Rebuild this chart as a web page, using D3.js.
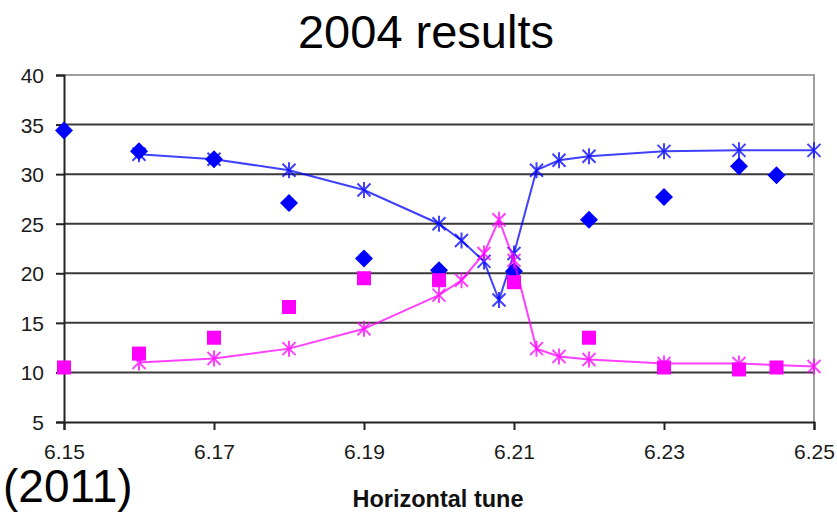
<!DOCTYPE html>
<html>
<head>
<meta charset="utf-8">
<script src="https://cdn.jsdelivr.net/npm/d3@7"></script>
<style>
body { margin: 0; background: #fff; }
svg { display: block; font-family: "Liberation Sans", Arial, sans-serif; }
</style>
</head>
<body>
<div id="chart"></div>
<script>
// measured points (scatter only)
var diamondTune = [6.15, 6.16, 6.17, 6.18, 6.19, 6.20, 6.21, 6.22, 6.23, 6.24, 6.245];
var diamondVals = [34.4, 32.3, 31.5, 27.1, 21.5, 20.3, 20.2, 25.4, 27.7, 30.8, 29.9];
var squareTune = [6.15, 6.16, 6.17, 6.18, 6.19, 6.20, 6.21, 6.22, 6.23, 6.24, 6.245];
var squareVals = [10.5, 11.9, 13.5, 16.6, 19.5, 19.3, 19.1, 13.5, 10.5, 10.3, 10.5];

// simulated curves (asterisks with line)
var simTune = [6.16, 6.17, 6.18, 6.19, 6.20, 6.203, 6.206, 6.208, 6.21, 6.213, 6.216, 6.22, 6.23, 6.24, 6.25];
var simBlue = [32.0, 31.5, 30.4, 28.4, 25.0, 23.3, 21.2, 17.3, 22.0, 30.4, 31.4, 31.8, 32.3, 32.4, 32.4];
var simPink = [11.0, 11.4, 12.4, 14.4, 17.8, 19.3, 22.0, 25.4, 21.3, 12.4, 11.6, 11.3, 10.9, 10.9, 10.6];

var xTicks = [6.15, 6.17, 6.19, 6.21, 6.23, 6.25];
var yTicks = [5, 10, 15, 20, 25, 30, 35, 40];

var w = 837, h = 512;
var blue = "#0000ff", pink = "#ff00ff";

var svg = d3.select("#chart").append("svg")
	.attr("width", w)
	.attr("height", h);

var x = d3.scaleLinear().domain([6.15, 6.25]).range([64, 814]);
var y = d3.scaleLinear().domain([5, 40]).range([422, 75]);

// gridlines
svg.selectAll(".grid")
	.data(yTicks.filter(function (d) { return d > 5 && d < 40; }))
	.enter().append("line")
	.attr("class", "grid")
	.attr("x1", x(6.15)).attr("x2", x(6.25))
	.attr("y1", function (d) { return y(d); })
	.attr("y2", function (d) { return y(d); })
	.attr("stroke", "#3a3a3a")
	.attr("stroke-width", 2);

// plot area border (top + right)
svg.append("path")
	.attr("d", "M" + x(6.15) + "," + y(40) + "H" + x(6.25) + "V" + y(5))
	.attr("fill", "none")
	.attr("stroke", "#a0a0a0")
	.attr("stroke-width", 2);

// axes
var xAxis = svg.append("g")
	.attr("transform", "translate(0," + y(5) + ")")
	.call(d3.axisBottom(x).tickValues(xTicks).tickSize(8).tickPadding(14).tickFormat(d3.format(".2f")));
var yAxis = svg.append("g")
	.attr("transform", "translate(" + x(6.15) + ",0)")
	.call(d3.axisLeft(y).tickValues(yTicks).tickSize(8).tickPadding(12));

[xAxis, yAxis].forEach(function (a) {
	a.select(".domain").attr("stroke", "#222").attr("stroke-width", 2);
	a.selectAll(".tick line").attr("stroke", "#222").attr("stroke-width", 2);
	a.selectAll(".tick text")
		.attr("fill", "#1a1a1a")
		.style("font-size", "21px")
		.style("font-family", "'Liberation Sans', Arial, sans-serif");
});
yAxis.selectAll(".tick text").attr("dy", "0.36em");

// asterisk marker: X plus vertical bar
function asterisk(g, cx, cy, col) {
	var r = 8, d = 6.5;
	g.append("path")
		.attr("d", "M" + (cx - d) + "," + (cy - d) + "L" + (cx + d) + "," + (cy + d) +
			"M" + (cx - d) + "," + (cy + d) + "L" + (cx + d) + "," + (cy - d) +
			"M" + cx + "," + (cy - r) + "L" + cx + "," + (cy + r))
		.attr("stroke", col)
		.attr("stroke-width", 2)
		.attr("stroke-opacity", 0.75)
		.attr("fill", "none");
}

var line = d3.line()
	.x(function (d) { return x(d[0]); })
	.y(function (d) { return y(d[1]); });

function drawSim(vals, col) {
	var pts = simTune.map(function (t, i) { return [t, vals[i]]; });
	var g = svg.append("g");
	g.append("path")
		.attr("d", line(pts))
		.attr("fill", "none")
		.attr("stroke", col)
		.attr("stroke-opacity", 0.75)
		.attr("stroke-width", 2);
	pts.forEach(function (p) { asterisk(g, x(p[0]), y(p[1]), col); });
}

// diamonds (square rotated 45deg)
var dr = 9;
svg.append("g").selectAll("path")
	.data(diamondTune)
	.enter().append("path")
	.attr("d", "M0," + (-dr) + "L" + dr + ",0L0," + dr + "L" + (-dr) + ",0Z")
	.attr("transform", function (d, i) { return "translate(" + x(d) + "," + y(diamondVals[i]) + ")"; })
	.attr("fill", blue);

drawSim(simBlue, blue);

// squares
svg.append("g").selectAll("rect")
	.data(squareTune)
	.enter().append("rect")
	.attr("x", function (d) { return x(d) - 7; })
	.attr("y", function (d, i) { return y(squareVals[i]) - 7; })
	.attr("width", 14)
	.attr("height", 14)
	.attr("fill", pink);

drawSim(simPink, pink);

// texts
svg.append("text")
	.attr("x", 426).attr("y", 48)
	.attr("text-anchor", "middle")
	.style("font-size", "47px")
	.attr("fill", "#000")
	.text("2004 results");

svg.append("text")
	.attr("x", 438).attr("y", 507)
	.attr("text-anchor", "middle")
	.style("font-size", "23.5px")
	.style("font-weight", "bold")
	.attr("fill", "#111")
	.text("Horizontal tune");

svg.append("text")
	.attr("x", 3).attr("y", 502)
	.style("font-size", "46px")
	.attr("fill", "#000")
	.text("(2011)");
</script>
</body>
</html>
